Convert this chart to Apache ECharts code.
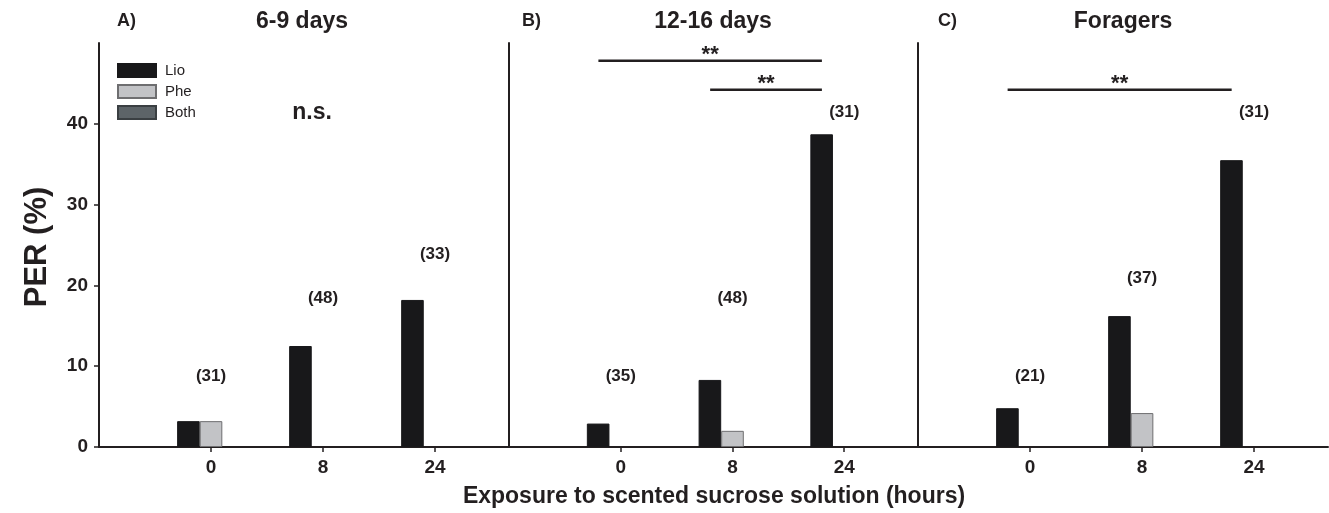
<!DOCTYPE html>
<html>
<head>
<meta charset="utf-8">
<script src="https://cdn.jsdelivr.net/npm/echarts@6/dist/echarts.min.js"></script>
<style>
  html, body { margin: 0; padding: 0; background: #fff; }
  #chart { width: 1329px; height: 513px; }
</style>
</head>
<body>
<div id="chart"></div>
<script>
// exposure time categories and panel titles
var hours = ['0', '8', '24'];
var panelTitles = ['6-9 days', '12-16 days', 'Foragers'];
var panelTags = ['A)', 'B)', 'C)'];

// PER (%) per panel, in the order 0, 8, 24 h
var lio  = [[3.2, 12.5, 18.2], [2.9, 8.3, 38.7], [4.8, 16.2, 35.5]];
var phe  = [[3.2, 0, 0],       [0, 2.0, 0],      [0, 4.2, 0]];
var both = [[0, 0, 0],         [0, 0, 0],        [0, 0, 0]];

// sample sizes shown above each group and the level they sit at
var sampleN = [[31, 48, 33], [35, 48, 31], [21, 37, 31]];
var sampleNLevel = [[8.8, 18.4, 23.9], [8.8, 18.4, 41.4], [8.8, 20.9, 41.4]];

// significance bars: panel, from, to, level
var sigBars = [[1, -0.2, 1.8, 47.8], [1, 0.8, 1.8, 44.2], [2, -0.2, 1.8, 44.2]];

var yTicks = [0, 10, 20, 30, 40];

var ink = '#231f20';
var font = '"Liberation Sans", Arial, sans-serif';

var gridLeft = [99, 509, 918];
var gridWidth = [410, 409, 410];

var grids = [], xAxes = [], yAxes = [], series = [];

// zero bars are simply not drawn
var toPts = function (arr) {
  return arr.map(function (v, k) { return [k, v === 0 ? '-' : v]; });
};

for (var i = 0; i < 3; i++) {
  grids.push({ left: gridLeft[i], width: gridWidth[i], top: 43, height: 404 });

  xAxes.push({
    type: 'value', gridIndex: i, min: -1, max: 2.66,
    splitLine: { show: false },
    axisLine: { show: true, onZero: false, lineStyle: { color: ink, width: 2 } },
    axisTick: { show: true, customValues: [0, 1, 2], length: 5, lineStyle: { color: ink, width: 1.5 } },
    axisLabel: {
      customValues: [0, 1, 2], margin: 11,
      fontFamily: font, fontWeight: 'bold', fontSize: 19, color: ink,
      formatter: function (v) { return hours[Math.round(v)]; }
    }
  });

  yAxes.push({
    type: 'value', gridIndex: i, min: 0, max: 50, interval: 10,
    splitLine: { show: false },
    axisLine: { show: true, onZero: false, lineStyle: { color: ink, width: 2 } },
    axisTick: { show: i === 0, customValues: yTicks, length: 5, lineStyle: { color: ink, width: 1.5 } },
    axisLabel: {
      show: i === 0, customValues: yTicks, margin: 11,
      fontFamily: font, fontWeight: 'bold', fontSize: 19, color: ink
    }
  });

  series.push({
    name: 'Lio', type: 'bar', xAxisIndex: i, yAxisIndex: i,
    barWidth: 22.6, barGap: '0%',
    itemStyle: { color: '#18181a', borderColor: '#18181a', borderWidth: 1 },
    data: toPts(lio[i])
  });
  series.push({
    name: 'Phe', type: 'bar', xAxisIndex: i, yAxisIndex: i,
    barWidth: 22.6, barGap: '0%',
    itemStyle: { color: '#c2c3c6', borderColor: '#6e6e70', borderWidth: 1 },
    data: toPts(phe[i])
  });
  series.push({
    name: 'Both', type: 'bar', xAxisIndex: i, yAxisIndex: i,
    barWidth: 22.6, barGap: '0%',
    itemStyle: { color: '#5d6468', borderColor: '#3a3f42', borderWidth: 1 },
    data: toPts(both[i])
  });

  // sample size labels
  series.push({
    type: 'scatter', xAxisIndex: i, yAxisIndex: i,
    symbolSize: 1, itemStyle: { color: 'transparent', opacity: 1 },
    label: {
      show: true, position: 'inside',
      fontFamily: font, fontWeight: 'bold', fontSize: 17, color: ink,
      formatter: function (p) { return '(' + p.value[2] + ')'; }
    },
    data: sampleN[i].map(function (n, k) { return [k, sampleNLevel[i][k], n]; })
  });
}

// significance bars with stars
sigBars.forEach(function (s) {
  series.push({
    type: 'line', xAxisIndex: s[0], yAxisIndex: s[0],
    symbol: 'none', lineStyle: { color: ink, width: 2.5 },
    data: [[s[1], s[3]], [s[2], s[3]]]
  });
  series.push({
    type: 'scatter', xAxisIndex: s[0], yAxisIndex: s[0],
    symbolSize: 1, itemStyle: { color: 'transparent', opacity: 1 },
    label: {
      show: true, position: 'top', distance: -6,
      fontFamily: font, fontWeight: 'bold', fontSize: 22, color: ink,
      formatter: '**'
    },
    data: [[(s[1] + s[2]) / 2, s[3]]]
  });
});

var graphics = [];
var tagX = [117, 522, 938];
var titleX = [302, 713, 1123];
for (var j = 0; j < 3; j++) {
  graphics.push({
    type: 'text', left: tagX[j], top: 12,
    style: { text: panelTags[j], font: 'bold 18px ' + font, fill: ink }
  });
  graphics.push({
    type: 'text', x: titleX[j], y: 22,
    style: { text: panelTitles[j], font: 'bold 23px ' + font, fill: ink, align: 'center', verticalAlign: 'middle' }
  });
}
graphics.push({
  type: 'text', x: 312, y: 113,
  style: { text: 'n.s.', font: 'bold 23px ' + font, fill: ink, align: 'center', verticalAlign: 'middle' }
});
graphics.push({
  type: 'text', x: 714, y: 497,
  style: { text: 'Exposure to scented sucrose solution (hours)', font: 'bold 23px ' + font, fill: ink, align: 'center', verticalAlign: 'middle' }
});
graphics.push({
  type: 'text', x: 37, y: 247, rotation: Math.PI / 2,
  style: { text: 'PER (%)', font: 'bold 31px ' + font, fill: ink, align: 'center', verticalAlign: 'middle' }
});

var chart = echarts.init(document.getElementById('chart'));
chart.setOption({
  animation: false,
  backgroundColor: '#fff',
  grid: grids,
  xAxis: xAxes,
  yAxis: yAxes,
  legend: {
    data: ['Lio', 'Phe', 'Both'],
    orient: 'vertical', left: 117, top: 63, padding: 0,
    itemWidth: 38, itemHeight: 13, itemGap: 6,
    icon: 'rect',
    textStyle: { fontFamily: font, fontSize: 15, color: ink, padding: [0, 0, 0, 4] }
  },
  series: series,
  graphic: graphics
});
</script>
</body>
</html>
